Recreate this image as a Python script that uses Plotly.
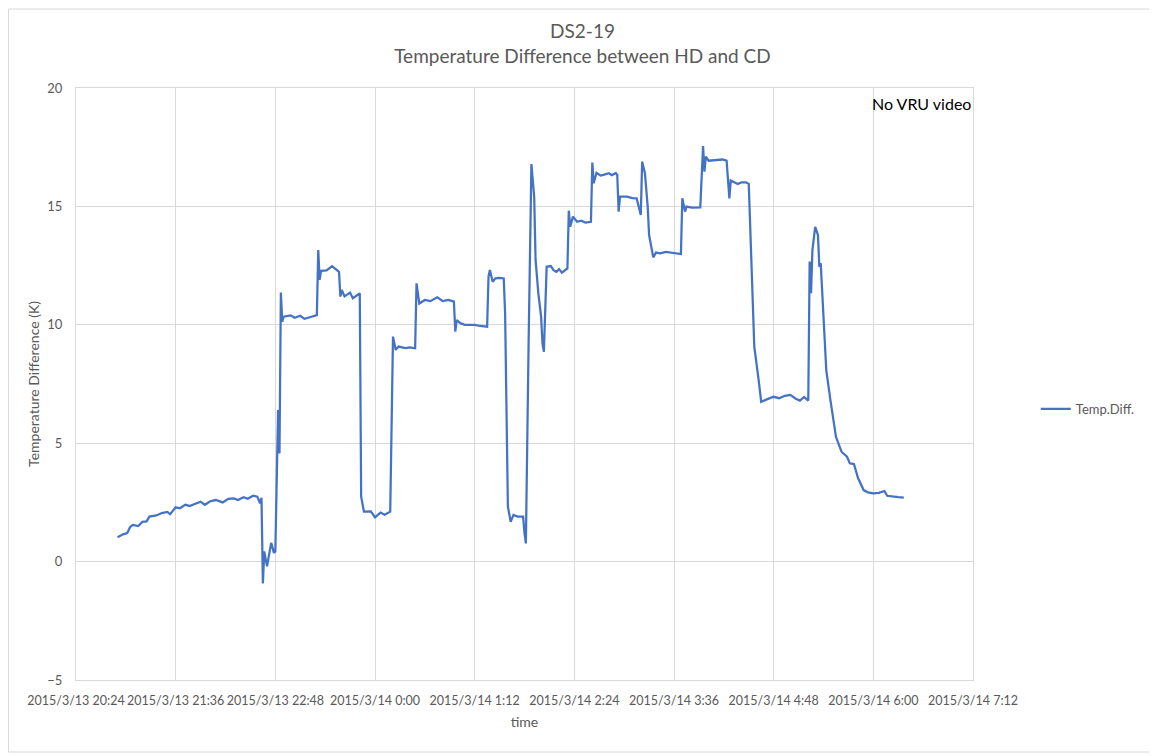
import plotly.graph_objects as go

# values (Temp.Diff., K)
TIMES = [
    "2015-03-13 20:54", "2015-03-13 20:58", "2015-03-13 21:01", "2015-03-13 21:03",
    "2015-03-13 21:05", "2015-03-13 21:09", "2015-03-13 21:12", "2015-03-13 21:15",
    "2015-03-13 21:17", "2015-03-13 21:22", "2015-03-13 21:26", "2015-03-13 21:30",
    "2015-03-13 21:32", "2015-03-13 21:36", "2015-03-13 21:39", "2015-03-13 21:43",
    "2015-03-13 21:46", "2015-03-13 21:50", "2015-03-13 21:54", "2015-03-13 21:57",
    "2015-03-13 22:01", "2015-03-13 22:05", "2015-03-13 22:10", "2015-03-13 22:14",
    "2015-03-13 22:18", "2015-03-13 22:21", "2015-03-13 22:25", "2015-03-13 22:28",
    "2015-03-13 22:32", "2015-03-13 22:35", "2015-03-13 22:37", "2015-03-13 22:38",
    "2015-03-13 22:39", "2015-03-13 22:40", "2015-03-13 22:42", "2015-03-13 22:45",
    "2015-03-13 22:47", "2015-03-13 22:48", "2015-03-13 22:50", "2015-03-13 22:51",
    "2015-03-13 22:52", "2015-03-13 22:53", "2015-03-13 22:54", "2015-03-13 22:59",
    "2015-03-13 23:02", "2015-03-13 23:06", "2015-03-13 23:09", "2015-03-13 23:13",
    "2015-03-13 23:18", "2015-03-13 23:19", "2015-03-13 23:20", "2015-03-13 23:21",
    "2015-03-13 23:25", "2015-03-13 23:29", "2015-03-13 23:34", "2015-03-13 23:35",
    "2015-03-13 23:36", "2015-03-13 23:38", "2015-03-13 23:42", "2015-03-13 23:44",
    "2015-03-13 23:49", "2015-03-13 23:50", "2015-03-13 23:52", "2015-03-13 23:57",
    "2015-03-14 00:00", "2015-03-14 00:04", "2015-03-14 00:07", "2015-03-14 00:11",
    "2015-03-14 00:13", "2015-03-14 00:15", "2015-03-14 00:17", "2015-03-14 00:22",
    "2015-03-14 00:25", "2015-03-14 00:29", "2015-03-14 00:30", "2015-03-14 00:32",
    "2015-03-14 00:36", "2015-03-14 00:40", "2015-03-14 00:45", "2015-03-14 00:49",
    "2015-03-14 00:53", "2015-03-14 00:57", "2015-03-14 00:58", "2015-03-14 00:59",
    "2015-03-14 01:02", "2015-03-14 01:05", "2015-03-14 01:09", "2015-03-14 01:12",
    "2015-03-14 01:16", "2015-03-14 01:21", "2015-03-14 01:22", "2015-03-14 01:23",
    "2015-03-14 01:25", "2015-03-14 01:27", "2015-03-14 01:30", "2015-03-14 01:33",
    "2015-03-14 01:34", "2015-03-14 01:35", "2015-03-14 01:36", "2015-03-14 01:38",
    "2015-03-14 01:40", "2015-03-14 01:43", "2015-03-14 01:47", "2015-03-14 01:48",
    "2015-03-14 01:49", "2015-03-14 01:51", "2015-03-14 01:53", "2015-03-14 01:55",
    "2015-03-14 01:56", "2015-03-14 01:58", "2015-03-14 02:00", "2015-03-14 02:01",
    "2015-03-14 02:02", "2015-03-14 02:04", "2015-03-14 02:07", "2015-03-14 02:09",
    "2015-03-14 02:11", "2015-03-14 02:13", "2015-03-14 02:15", "2015-03-14 02:19",
    "2015-03-14 02:20", "2015-03-14 02:21", "2015-03-14 02:23", "2015-03-14 02:26",
    "2015-03-14 02:29", "2015-03-14 02:32", "2015-03-14 02:36", "2015-03-14 02:37",
    "2015-03-14 02:38", "2015-03-14 02:40", "2015-03-14 02:43", "2015-03-14 02:45",
    "2015-03-14 02:49", "2015-03-14 02:51", "2015-03-14 02:54", "2015-03-14 02:55",
    "2015-03-14 02:56", "2015-03-14 02:57", "2015-03-14 03:02", "2015-03-14 03:06",
    "2015-03-14 03:09", "2015-03-14 03:12", "2015-03-14 03:13", "2015-03-14 03:15",
    "2015-03-14 03:17", "2015-03-14 03:18", "2015-03-14 03:21", "2015-03-14 03:23",
    "2015-03-14 03:26", "2015-03-14 03:30", "2015-03-14 03:33", "2015-03-14 03:37",
    "2015-03-14 03:41", "2015-03-14 03:42", "2015-03-14 03:44", "2015-03-14 03:45",
    "2015-03-14 03:49", "2015-03-14 03:55", "2015-03-14 03:57", "2015-03-14 03:58",
    "2015-03-14 03:59", "2015-03-14 04:01", "2015-03-14 04:04", "2015-03-14 04:07",
    "2015-03-14 04:11", "2015-03-14 04:14", "2015-03-14 04:16", "2015-03-14 04:17",
    "2015-03-14 04:22", "2015-03-14 04:25", "2015-03-14 04:28", "2015-03-14 04:30",
    "2015-03-14 04:34", "2015-03-14 04:37", "2015-03-14 04:39", "2015-03-14 04:43",
    "2015-03-14 04:48", "2015-03-14 04:52", "2015-03-14 04:56", "2015-03-14 05:00",
    "2015-03-14 05:04", "2015-03-14 05:07", "2015-03-14 05:10", "2015-03-14 05:13",
    "2015-03-14 05:14", "2015-03-14 05:15", "2015-03-14 05:16", "2015-03-14 05:18",
    "2015-03-14 05:20", "2015-03-14 05:21", "2015-03-14 05:22", "2015-03-14 05:24",
    "2015-03-14 05:26", "2015-03-14 05:29", "2015-03-14 05:31", "2015-03-14 05:33",
    "2015-03-14 05:37", "2015-03-14 05:41", "2015-03-14 05:43", "2015-03-14 05:46",
    "2015-03-14 05:49", "2015-03-14 05:53", "2015-03-14 05:56", "2015-03-14 06:00",
    "2015-03-14 06:04", "2015-03-14 06:08", "2015-03-14 06:10", "2015-03-14 06:14",
    "2015-03-14 06:18", "2015-03-14 06:22",
]
TEMP_DIFF = [
    1.03, 1.15, 1.2, 1.45, 1.55, 1.5, 1.68, 1.7,
    1.9, 1.95, 2.05, 2.1, 2.0, 2.29, 2.25, 2.4,
    2.35, 2.45, 2.53, 2.4, 2.55, 2.6, 2.5, 2.65,
    2.67, 2.6, 2.72, 2.65, 2.78, 2.74, 2.46, 2.7,
    -0.92, 0.43, -0.2, 0.79, 0.37, 0.43, 6.4, 4.57,
    11.36, 10.13, 10.34, 10.4, 10.3, 10.38, 10.25, 10.32,
    10.41, 13.16, 11.9, 12.28, 12.3, 12.48, 12.24, 11.19,
    11.47, 11.2, 11.36, 11.12, 11.33, 2.74, 2.11, 2.12,
    1.87, 2.07, 1.98, 2.11, 9.5, 8.94, 9.08, 9.02,
    9.05, 9.01, 11.75, 10.9, 11.05, 11.0, 11.16, 11.0,
    11.05, 10.98, 9.71, 10.2, 10.06, 10.0, 9.99, 10.0,
    9.95, 9.92, 12.03, 12.31, 11.82, 11.96, 11.98, 11.96,
    10.48, 5.84, 2.32, 1.68, 1.97, 1.9, 1.9, 1.19,
    0.77, 9.36, 16.79, 15.41, 12.74, 11.33, 10.34, 9.2,
    8.86, 12.45, 12.48, 12.31, 12.24, 12.35, 12.2, 12.38,
    14.82, 14.14, 14.57, 14.35, 14.4, 14.32, 14.35, 16.85,
    15.98, 16.42, 16.3, 16.33, 16.4, 16.32, 16.4, 16.33,
    14.78, 15.41, 15.41, 15.35, 15.34, 14.64, 16.89, 16.4,
    14.99, 13.79, 12.85, 13.05, 13.02, 13.08, 13.05, 13.0,
    12.99, 15.34, 14.78, 14.99, 14.95, 14.96, 17.55, 16.47,
    17.1, 16.93, 16.95, 16.96, 16.98, 16.93, 15.34, 16.09,
    15.95, 16.02, 16.02, 15.95, 9.08, 7.74, 6.75, 6.85,
    6.96, 6.9, 7.0, 7.04, 6.88, 6.8, 6.95, 6.8,
    12.67, 11.33, 13.16, 14.14, 13.79, 12.45, 12.6, 10.34,
    8.09, 6.82, 5.98, 5.27, 4.64, 4.43, 4.15, 4.12,
    3.52, 3.02, 2.92, 2.88, 2.9, 2.98, 2.78, 2.74,
    2.72, 2.7,
]

X_TICKS = [
    "2015-03-13 20:24", "2015-03-13 21:36", "2015-03-13 22:48", "2015-03-14 00:00",
    "2015-03-14 01:12", "2015-03-14 02:24", "2015-03-14 03:36", "2015-03-14 04:48",
    "2015-03-14 06:00", "2015-03-14 07:12",
]
X_TICK_TEXT = [
    "2015/3/13 20:24", "2015/3/13 21:36", "2015/3/13 22:48", "2015/3/14 0:00",
    "2015/3/14 1:12", "2015/3/14 2:24", "2015/3/14 3:36", "2015/3/14 4:48",
    "2015/3/14 6:00", "2015/3/14 7:12",
]
Y_TICKS = [-5, 0, 5, 10, 15, 20]

FONT = "Lato, 'Noto Sans', sans-serif"
GREY = "#595959"
GRID = "#d9d9d9"

fig = go.Figure()
fig.add_trace(go.Scatter(x=TIMES, y=TEMP_DIFF, mode="lines", name="Temp.Diff.",
                         line=dict(color="#4472C4", width=2.25)))

fig.update_xaxes(type="date", range=[X_TICKS[0], X_TICKS[-1]], tickvals=X_TICKS,
                 ticktext=X_TICK_TEXT, tickangle=0, showgrid=True, gridcolor=GRID,
                 gridwidth=1, showline=True, linecolor=GRID, mirror=True, zeroline=False,
                 ticklabelstandoff=9,
                 tickfont=dict(size=12.5, color=GREY, family=FONT),
                 title=dict(text="time", font=dict(size=14, color=GREY, family=FONT),
                            standoff=10))
fig.update_yaxes(range=[-5, 20], tickvals=Y_TICKS, showgrid=True, gridcolor=GRID,
                 gridwidth=1, showline=True, linecolor=GRID, mirror=True, zeroline=False,
                 ticklabelstandoff=10,
                 tickfont=dict(size=13, color=GREY, family=FONT),
                 title=dict(text="Temperature Difference (K)",
                            font=dict(size=14, color=GREY, family=FONT), standoff=4))

fig.add_annotation(text="No VRU video", xref="paper", yref="paper", x=1.0, y=0.993,
                   xanchor="right", yanchor="top", showarrow=False,
                   font=dict(size=16, color="#000000", family=FONT))

# outer chart border
fig.add_shape(type="rect", xref="paper", yref="paper", x0=-0.0752, x1=1.1985,
              y0=-0.1216, y1=1.1334, line=dict(color=GRID, width=1), layer="below")

# the page adds an 8 px body margin, so the figure is sized 8 px smaller
fig.update_layout(
    width=1149, height=748,
    margin=dict(l=68, r=184, t=80, b=76),
    paper_bgcolor="white", plot_bgcolor="white",
    font=dict(family=FONT, color=GREY),
    title=dict(text="DS2-19<br>Temperature Difference between HD and CD",
               x=0.5, xanchor="center", y=0.96, yanchor="top",
               font=dict(size=19, color=GREY, family=FONT)),
    legend=dict(x=1.07, y=0.458, xanchor="left", yanchor="middle",
                font=dict(size=13, color=GREY, family=FONT)),
    showlegend=True,
)

fig.write_html("out.html")
